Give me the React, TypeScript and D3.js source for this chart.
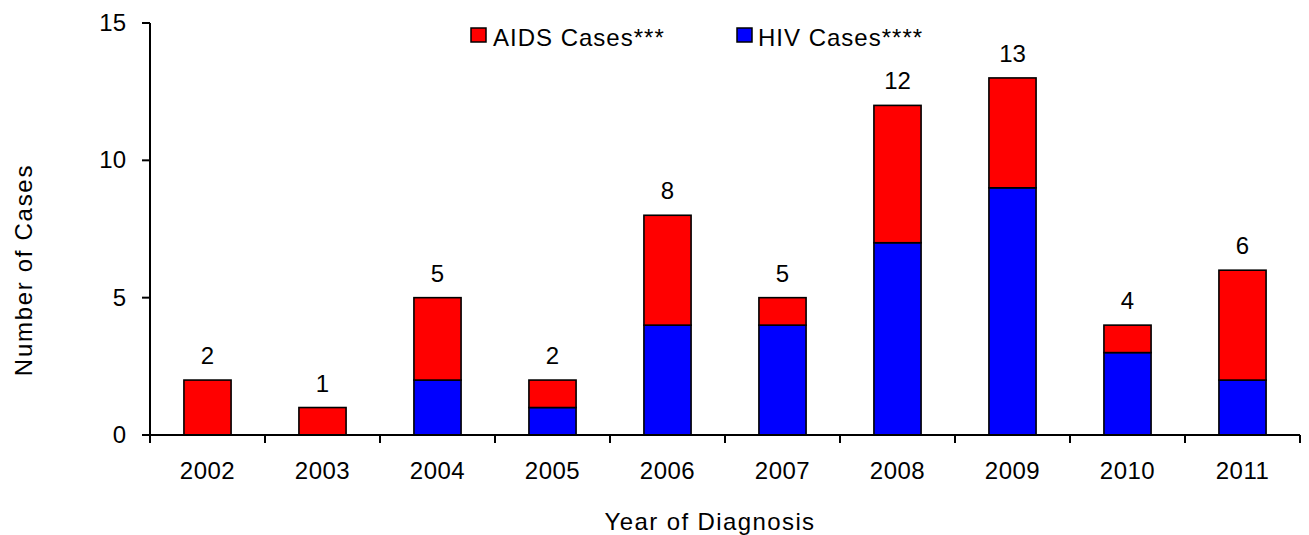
import React from "react";
import * as d3 from "d3";

const years = ["2002", "2003", "2004", "2005", "2006", "2007", "2008", "2009", "2010", "2011"];
const hivCases = [0, 0, 2, 1, 4, 4, 7, 9, 3, 2];
const aidsCases = [2, 1, 3, 1, 4, 1, 5, 4, 1, 4];
const yTicks = [0, 5, 10, 15];

const W = 1309;
const H = 535;
const left = 150;
const right = 1300;
const top = 23;
const bottom = 435;
const FONT = "'Liberation Sans', Arial, sans-serif";

export default function App() {
  const x = d3.scaleBand<string>().domain(years).range([left, right]).paddingInner(0.59).paddingOuter(0.295);
  const xStep = d3.scaleBand<string>().domain(years).range([left, right]);
  const y = d3.scaleLinear().domain([0, 15]).range([bottom, top]);
  const rows = years.map((yr, i) => ({ yr, hiv: hivCases[i], aids: aidsCases[i], total: hivCases[i] + aidsCases[i] }));
  const stack = d3.stack<any>().keys(["hiv", "aids"])(rows);
  const colors: Record<string, string> = { hiv: "#0000ff", aids: "#ff0000" };

  return (
    <div style={{ position: "absolute", left: 0, top: 0 }}>
      <svg width={W} height={H} style={{ display: "block", background: "#fff" }} fontFamily={FONT}>
        {stack.map((s) =>
          s.map((d, i) =>
            d[1] - d[0] > 0 ? (
              <rect
                key={s.key + i}
                x={x(years[i])}
                y={y(d[1])}
                width={x.bandwidth()}
                height={y(d[0]) - y(d[1])}
                fill={colors[s.key]}
                stroke="#000"
                strokeWidth={1.6}
              />
            ) : null
          )
        )}
        {rows.map((r) => (
          <text key={r.yr} x={x(r.yr)! + x.bandwidth() / 2} y={y(r.total) - 16} textAnchor="middle" fontSize={24}>
            {r.total}
          </text>
        ))}
        {/* axes */}
        <line x1={left} x2={left} y1={top} y2={bottom} stroke="#000" strokeWidth={2} />
        <line x1={left} x2={right} y1={bottom} y2={bottom} stroke="#000" strokeWidth={2} />
        {yTicks.map((t) => (
          <g key={t}>
            <line x1={left - 8} x2={left} y1={y(t)} y2={y(t)} stroke="#000" strokeWidth={2} />
            <text x={126} y={y(t) + 8} textAnchor="end" fontSize={24}>
              {t}
            </text>
          </g>
        ))}
        {years.map((yr) => (
          <g key={yr}>
            <line x1={xStep(yr)! + xStep.bandwidth()} x2={xStep(yr)! + xStep.bandwidth()} y1={bottom} y2={bottom + 8} stroke="#000" strokeWidth={2} />
            <text x={x(yr)! + x.bandwidth() / 2} y={479} textAnchor="middle" fontSize={24} letterSpacing={0.5}>
              {yr}
            </text>
          </g>
        ))}
        <line x1={left} x2={left} y1={bottom} y2={bottom + 8} stroke="#000" strokeWidth={2} />
        <text x={710} y={530} textAnchor="middle" fontSize={24} letterSpacing={1.4}>
          Year of Diagnosis
        </text>
        <text transform="translate(32,270) rotate(-90)" textAnchor="middle" fontSize={24} letterSpacing={1.7}>
          Number of  Cases
        </text>
        {/* legend */}
        <rect x={471} y={28} width={15} height={14} fill="#ff0000" stroke="#000" strokeWidth={1.5} />
        <text x={493} y={46} fontSize={24} letterSpacing={1}>AIDS Cases***</text>
        <rect x={737} y={28} width={15} height={14} fill="#0000ff" stroke="#000" strokeWidth={1.5} />
        <text x={758} y={46} fontSize={24} letterSpacing={1}>HIV Cases****</text>
      </svg>
    </div>
  );
}
